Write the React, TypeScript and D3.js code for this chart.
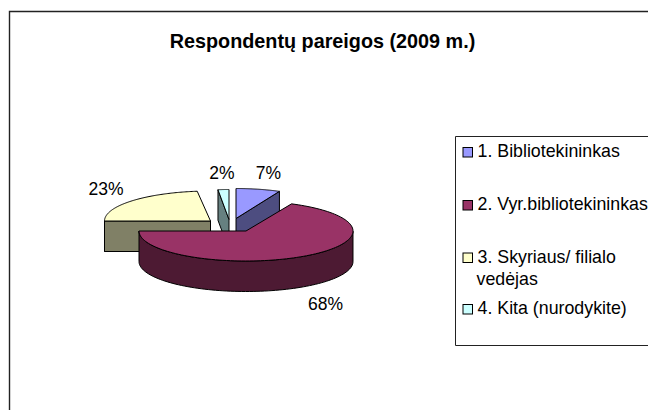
import React from "react";
import * as d3 from "d3";

const title = "Respondentų pareigos (2009 m.)";
const categories = ["1. Bibliotekininkas", "2. Vyr.bibliotekininkas", "3. Skyriaus/ filialo vedėjas", "4. Kita (nurodykite)"];
const values = [7, 68, 23, 2];
const topColors = ["#9999FF", "#993366", "#FFFFCC", "#CCFFFF"];
const wallColors = ["#4D4D80", "#4D1A33", "#808066", "#668080"];

const centers = [[236, 218.5, 102], [246, 231, 107], [210.5, 221, 106], [229, 219.5, 88]];
const RY = 30;
const DEPTH = 30.5;
const drawOrder = [2, 3, 0, 1];
const labelPos = [[268.5, 179], [222, 179], [106, 194.5], [325.5, 310]];
const labelIdx = [0, 3, 2, 1];
const legendRows = [
  { lines: [categories[0]], y: 157 },
  { lines: [categories[1]], y: 210 },
  { lines: ["3. Skyriaus/ filialo", "vedėjas"], y: 262.5 },
  { lines: [categories[3]], y: 314 },
];

const FONT = "'Liberation Sans', Arial, sans-serif";
const stroke = "#000";

export default function App() {
  const arcs = d3.pie<number>().sort(null)(values);
  const line = d3.line();
  const slices = arcs.map((a, i) => {
    const [cx, cy, rx] = centers[i];
    const pt = (t: number): [number, number] => [cx + rx * Math.sin(t), cy - RY * Math.cos(t)];
    const steps = d3.range(0, 121).map((k) => a.startAngle + ((a.endAngle - a.startAngle) * k) / 120);
    const rim = steps.map(pt);
    const top = line([[cx, cy], ...rim, [cx, cy]] as [number, number][]) + "Z";
    const down = (p: [number, number]): [number, number] => [p[0], p[1] + DEPTH];
    const quad = (ps: [number, number][]) => line([...ps, ...ps.slice().reverse().map(down)]) + "Z";
    const walls: string[] = [];
    const apex: [number, number] = [cx, cy];
    if (Math.sin(a.startAngle) < -1e-6) walls.push(quad([apex, pt(a.startAngle)]));
    if (Math.sin(a.endAngle) > 1e-6) walls.push(quad([apex, pt(a.endAngle)]));
    const front = steps.filter((t) => Math.cos(t) <= 0.02);
    if (front.length > 1) walls.push(quad(front.map(pt)));
    return { i, top, walls };
  });

  return (
    <svg width={648} height={410} style={{ position: "absolute", left: 0, top: 0, background: "#fff" }} fontFamily={FONT}>
      <path d="M9.5,410V11.5H648" fill="none" stroke="#222" strokeWidth={1.4} />
      <text x={322.5} y={47.5} textAnchor="middle" fontSize={19.8} fontWeight="bold">{title}</text>
      {drawOrder.map((i) => {
        const s = slices[i];
        return (
          <g key={i} stroke={stroke} strokeWidth={1} strokeLinejoin="round">
            {s.walls.map((d, k) => <path key={k} d={d} fill={wallColors[i]} />)}
            <path d={s.top} fill={topColors[i]} />
          </g>
        );
      })}
      {labelPos.map(([x, y], k) => (
        <text key={k} x={x} y={y} textAnchor="middle" fontSize={17.5}>{values[labelIdx[k]]}%</text>
      ))}
      <path d="M648,136.5H455.5V345.5H648" fill="#fff" stroke="#222" strokeWidth={1} />
      {legendRows.map((r, i) => (
        <g key={i}>
          <rect x={463} y={r.y - 9.5} width={9.5} height={9.5} fill={topColors[i]} stroke="#000" />
          {r.lines.map((t, k) => (
            <text key={k} x={k === 0 ? 477.5 : 476.5} y={r.y + k * 22} fontSize={17.8}>{t}</text>
          ))}
        </g>
      ))}
    </svg>
  );
}
